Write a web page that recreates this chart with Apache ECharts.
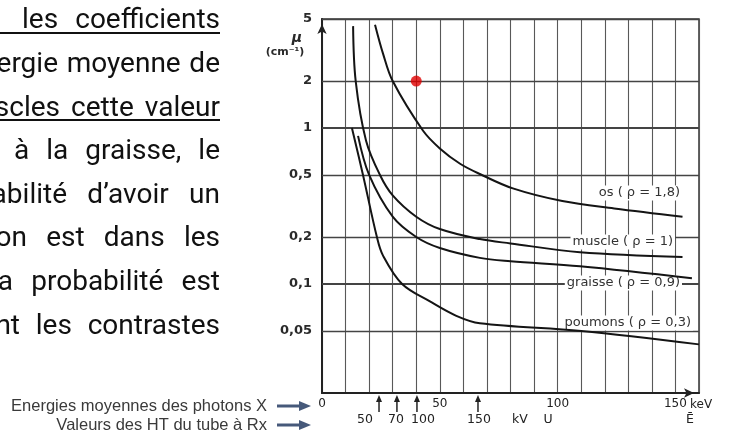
<!DOCTYPE html>
<html><head><meta charset="utf-8">
<script src="https://cdn.jsdelivr.net/npm/echarts@6/dist/echarts.min.js"></script>
<style>html,body{margin:0;padding:0;background:#fff}#c{width:732px;height:435px}</style>
</head><body><div id="c"></div>
<script>
// ---- data ----
const energyTickLabels = [0, 50, 100, 150];
const muTicks = [0.02, 0.05, 0.1, 0.2, 0.5, 1, 2, 5];
const muTickLabels = ['0,02', '0,05', '0,1', '0,2', '0,5', '1', '2', '5'];
const boneData = [[22.5, 4.6], [25.9, 3.0], [30, 2.0], [42.9, 0.96], [50, 0.74], [58.6, 0.59], [67, 0.507], [81, 0.41], [102, 0.34], [124, 0.305], [153, 0.27]];
const muscleData = [[13.2, 4.5], [14.3, 2.0], [18.7, 0.83], [24.6, 0.5], [30, 0.37], [40, 0.27], [50, 0.225], [67, 0.194], [80, 0.182], [109.5, 0.16], [153, 0.149]];
const fatData = [[15.3, 0.89], [20, 0.5], [30, 0.27], [40, 0.2], [50, 0.17], [67, 0.147], [80, 0.14], [109.5, 0.13], [157, 0.109]];
const lungData = [[12.7, 1.0], [17.4, 0.5], [23.3, 0.2], [25.9, 0.152], [34, 0.1], [46, 0.077], [57, 0.0625], [67, 0.056], [110, 0.05], [160, 0.041]];
const redPoint = [[40, 2]];
const kvArrowEnergies = [24.2, 31.8, 40.3, 66.2];
const kvLabels = ['50', '70', '100', '150'];
const curveLabels = ['os ( ρ = 1,8)', 'muscle ( ρ = 1)', 'graisse ( ρ = 0,9)', 'poumons ( ρ = 0,3)'];
const paragraphLines = [
  ['les', 'coefficients'],
  ['ergie', 'moyenne', 'de'],
  ['scles', 'cette', 'valeur'],
  ['à', 'la', 'graisse,', 'le'],
  ['babilité', 'd’avoir', 'un'],
  ['on', 'est', 'dans', 'les'],
  ['a', 'probabilité', 'est'],
  ['nt', 'les', 'contrastes']
];
const axisCaptions = ['Energies moyennes des photons X', 'Valeurs des HT du tube à Rx'];

// ---- layout (positions only) ----
const firstWordAnchor = [[22, 'left'], [58, 'right'], [60, 'right'], [14, 'left'], [67, 'right'], [27, 'right'], [13, 'right'], [20, 'right']];
const paraRight = 220;
const paraFont = '28px Roboto';
const underlined = [0, 2];
const curveLabelPos = [[682, 193], [675, 242], [682, 283], [693, 323]];
const kvLabelX = [365, 396, 423, 479];

const chart = echarts.init(document.getElementById('c'));

function curve(data) {
  return {type: 'line', data: data, smooth: 0.35, symbol: 'none', showSymbol: false, silent: true, z: 5,
    lineStyle: {color: '#141414', width: 2}};
}

chart.setOption({
  animation: false,
  backgroundColor: '#fff',
  grid: {left: 322, right: 33, top: 19, bottom: 42, show: true, borderColor: '#333', borderWidth: 1.5},
  xAxis: {
    type: 'value', min: 0, max: 160, interval: 10,
    axisLine: {show: true, lineStyle: {color: '#222', width: 2}, symbol: ['none', 'arrow'], symbolSize: [7, 10], symbolOffset: [0, -5]},
    axisTick: {show: false},
    axisLabel: {margin: 5, color: '#222', fontSize: 12, fontFamily: 'DejaVu Sans',
      formatter: v => energyTickLabels.indexOf(v) >= 0 ? String(v) : ''},
    splitLine: {show: true, lineStyle: {color: '#585858', width: 1.1}}
  },
  yAxis: {
    type: 'log', logBase: 10, min: 0.02, max: 5,
    axisLine: {show: true, lineStyle: {color: '#222', width: 2}, symbol: ['none', 'arrow'], symbolSize: [7, 10], symbolOffset: [0, -5]},
    axisTick: {show: false}, axisLabel: {show: false}, splitLine: {show: false}
  },
  series: [
    {type: 'line', data: [], z: 1, silent: true,
      markLine: {silent: true, symbol: 'none', animation: false, z: 1,
        label: {show: true, position: 'start', distance: 10, color: '#2a2a2a', fontSize: 13, fontFamily: 'DejaVu Sans', fontWeight: 'bold'},
        data: muTicks.map((v, i) => ({
          yAxis: v,
          label: {formatter: muTickLabels[i]},
          lineStyle: {type: 'solid', color: '#444', width: (v === 1 || v === 0.1) ? 2 : 1.4, opacity: v === 0.02 ? 0 : 1}
        }))
      }},
    curve(boneData), curve(muscleData), curve(fatData), curve(lungData),
    {type: 'scatter', data: redPoint, symbolSize: 11, silent: true, z: 6, itemStyle: {color: '#e00000'}}
  ]
});

const xb = v => chart.convertToPixel({xAxisIndex: 0}, v);
const yBottom = chart.convertToPixel({yAxisIndex: 0}, 0.02);
const g = [];
function txt(x, y, text, o) {
  const st = Object.assign({text: text, fill: '#222', fontSize: 12, fontFamily: 'DejaVu Sans', align: 'center', verticalAlign: 'middle', legacy: false}, o || {});
  g.push({type: 'text', x: x, y: y, z: 3, silent: true, style: st});
}
// paragraph, justified between first-word anchor and right edge
const mctx = document.createElement('canvas').getContext('2d');
mctx.font = paraFont;
paragraphLines.forEach((words, li) => {
  const yc = 21.4 + 43.6 * li;
  const fa = firstWordAnchor[li];
  const widths = words.map(w => mctx.measureText(w).width);
  const firstRight = fa[1] === 'right' ? fa[0] : fa[0] + widths[0];
  let rest = 0;
  for (let i = 1; i < words.length; i++) rest += widths[i];
  const gap = (paraRight - firstRight - rest) / (words.length - 1);
  let cursor = firstRight;
  words.forEach((w, wi) => {
    let left;
    if (wi === 0) left = firstRight - widths[0];
    else { left = cursor + gap; cursor = left + widths[wi]; }
    txt(left, yc, w, {fontSize: 28, fontFamily: 'Roboto', fill: '#111', align: 'left'});
  });
  if (underlined.indexOf(li) >= 0) {
    g.push({type: 'line', z: 3, silent: true, shape: {x1: 0, y1: yc + 11.5, x2: paraRight, y2: yc + 11.5}, style: {stroke: '#111', lineWidth: 2}});
  }
});
// captions with arrows
axisCaptions.forEach((c, i) => {
  const y = 406 + 19 * i;
  txt(267, y, c, {fontSize: 16.5, fontFamily: 'Liberation Sans', fill: '#3a3a3a', align: 'right'});
  g.push({type: 'line', z: 3, silent: true, shape: {x1: 277, y1: y, x2: 302, y2: y}, style: {stroke: '#46597a', lineWidth: 3}});
  g.push({type: 'polygon', z: 3, silent: true, shape: {points: [[299, y - 5], [311, y], [299, y + 5]]}, style: {fill: '#46597a'}});
});
// mu label
txt(297, 38, 'μ', {fontSize: 14, fontWeight: 'bold', fontStyle: 'italic', fill: '#2a2a2a'});
txt(285, 52, '(cm⁻¹)', {fontSize: 11, fontWeight: 'bold', fill: '#2a2a2a'});
// curve labels
curveLabels.forEach((t, i) => {
  txt(curveLabelPos[i][0], curveLabelPos[i][1], t, {fontSize: 13, fill: '#333', align: 'right', backgroundColor: '#fff', padding: [1, 2]});
});
// kV arrows and labels
kvArrowEnergies.forEach((e, i) => {
  const x = xb(e);
  g.push({type: 'line', z: 3, silent: true, shape: {x1: x, y1: yBottom + 19, x2: x, y2: yBottom + 6}, style: {stroke: '#222', lineWidth: 1.5}});
  g.push({type: 'polygon', z: 3, silent: true, shape: {points: [[x - 3, yBottom + 9], [x, yBottom + 2], [x + 3, yBottom + 9]]}, style: {fill: '#222'}});
  txt(kvLabelX[i], 420, kvLabels[i], {fontSize: 12.5});
});
txt(520, 420, 'kV', {fontSize: 12.5});
txt(548, 420, 'U', {fontSize: 12.5});
txt(690, 405, 'keV', {fontSize: 12, align: 'left'});
txt(690, 420, 'Ē', {fontSize: 12.5});
chart.setOption({graphic: g});
</script></body></html>
